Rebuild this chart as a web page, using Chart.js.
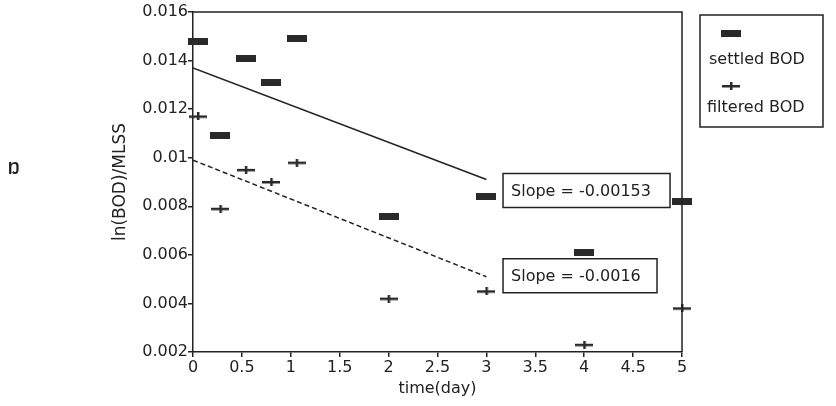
<!DOCTYPE html>
<html>
<head>
<meta charset="utf-8">
<script src="https://cdn.jsdelivr.net/npm/chart.js@4"></script>
<style>
  html, body { margin: 0; padding: 0; background: #fff; }
  #wrap { position: relative; width: 836px; height: 406px; }
  #mark { position: absolute; left: 8px; top: 160px; font: bold 16px "Liberation Sans"; color: #222; }
</style>
</head>
<body>
<div id="wrap">
  <canvas id="chart" width="836" height="406"></canvas>
  <div id="mark">Ŋ</div>
</div>
<script>
// data
const times = [0.05, 0.28, 0.54, 0.8, 1.06, 2, 3, 4, 5];
const settledBOD = [0.0148, 0.0109, 0.0141, 0.0131, 0.0149, 0.0076, 0.0084, 0.0061, 0.0082];
const filteredBOD = [0.0117, 0.0079, 0.0095, 0.0090, 0.0098, 0.0042, 0.0045, 0.0023, 0.0038];

// fitted lines (end points)
const fitTimes = [0, 3];
const settledFit = [0.0137, 0.0091];
const filteredFit = [0.0099, 0.0051];

const slopeLabels = ["Slope = -0.00153", "Slope = -0.0016"];
const seriesNames = ["settled BOD", "filtered BOD"];

const ink = "#222";
const FONT = "DejaVu Sans";

// marker images
function rectMarker() {
  const c = document.createElement("canvas");
  c.width = 20; c.height = 7;
  const g = c.getContext("2d");
  g.fillStyle = "#2a2a2a";
  g.fillRect(0, 0, 20, 7);
  return c;
}
function dashMarker() {
  const c = document.createElement("canvas");
  c.width = 18; c.height = 8;
  const g = c.getContext("2d");
  g.fillStyle = "#2a2a2a";
  g.fillRect(0, 3, 18, 2.5);
  g.fillRect(8, 0, 2.5, 8);
  return c;
}
const settledImg = rectMarker();
const filteredImg = dashMarker();

const pts = (xs, ys) => xs.map((x, i) => ({ x: x, y: ys[i] }));

// frame, slope boxes and legend
const extras = {
  id: "extras",
  afterDatasetsDraw(chart) {
    const ctx = chart.ctx;
    const a = chart.chartArea;
    const xs = chart.scales.x, ys = chart.scales.y;
    ctx.save();
    ctx.strokeStyle = ink;
    ctx.lineWidth = 1.5;
    ctx.beginPath();
    ctx.moveTo(a.left, a.top);
    ctx.lineTo(a.right, a.top);
    ctx.lineTo(a.right, a.bottom);
    ctx.stroke();

    // slope boxes next to the end of each fitted line
    const boxAt = [[3.17, 0.00865], [3.17, 0.00514]];
    const widths = [167, 154];
    ctx.font = "16px '" + FONT + "'";
    ctx.textBaseline = "middle";
    slopeLabels.forEach((t, i) => {
      const bx = xs.getPixelForValue(boxAt[i][0]);
      const cy = ys.getPixelForValue(boxAt[i][1]);
      ctx.fillStyle = "#fff";
      ctx.fillRect(bx, cy - 17, widths[i], 34);
      ctx.strokeRect(bx, cy - 17, widths[i], 34);
      ctx.fillStyle = ink;
      ctx.textAlign = "left";
      ctx.fillText(t, bx + 8, cy + 1);
    });

    // legend box
    const lx = a.right + 18, ly = 15;
    ctx.strokeRect(lx, ly, 123, 112);
    ctx.drawImage(settledImg, lx + 21, 30);
    ctx.drawImage(filteredImg, lx + 22, 82);
    ctx.fillStyle = ink;
    ctx.fillText(seriesNames[0], lx + 9, 60);
    ctx.fillText(seriesNames[1], lx + 7, 108);
    ctx.restore();
  }
};

new Chart(document.getElementById("chart"), {
  type: "scatter",
  data: {
    datasets: [
      {
        label: seriesNames[0],
        data: pts(times, settledBOD),
        pointStyle: settledImg,
        showLine: false,
        clip: false
      },
      {
        label: seriesNames[1],
        data: pts(times, filteredBOD),
        pointStyle: filteredImg,
        showLine: false,
        clip: false
      },
      {
        label: "settled fit",
        data: pts(fitTimes, settledFit),
        showLine: true,
        pointRadius: 0,
        borderColor: ink,
        borderWidth: 1.5
      },
      {
        label: "filtered fit",
        data: pts(fitTimes, filteredFit),
        showLine: true,
        pointRadius: 0,
        borderColor: ink,
        borderWidth: 1.5,
        borderDash: [5, 3]
      }
    ]
  },
  options: {
    responsive: false,
    animation: false,
    devicePixelRatio: 1,
    layout: { padding: { left: 105, right: 154, top: 12, bottom: 0 } },
    plugins: { legend: { display: false }, tooltip: { enabled: false } },
    scales: {
      x: {
        type: "linear",
        min: 0,
        max: 5,
        afterFit: s => { s.height = 54; },
        ticks: {
          stepSize: 0.5,
          padding: 1,
          color: ink,
          font: { family: FONT, size: 16 },
          callback: v => String(v)
        },
        grid: { drawOnChartArea: false, tickLength: 5, color: ink, lineWidth: 1.5 },
        border: { color: ink, width: 1.5 },
        title: {
          display: true,
          text: "time(day)",
          color: ink,
          font: { family: FONT, size: 16 },
          padding: { top: 0, bottom: 8 }
        }
      },
      y: {
        min: 0.002,
        max: 0.016,
        afterFit: s => { s.width = 88; },
        ticks: {
          stepSize: 0.002,
          padding: 0,
          color: ink,
          font: { family: FONT, size: 16 },
          callback: v => String(parseFloat(v.toFixed(3)))
        },
        grid: { drawOnChartArea: false, tickLength: 5, color: ink, lineWidth: 1.5 },
        border: { color: ink, width: 1.5 },
        title: {
          display: true,
          text: "ln(BOD)/MLSS",
          color: ink,
          font: { family: FONT, size: 17 },
          padding: { top: 5, bottom: 0 }
        }
      }
    }
  },
  plugins: [extras]
});
</script>
</body>
</html>
